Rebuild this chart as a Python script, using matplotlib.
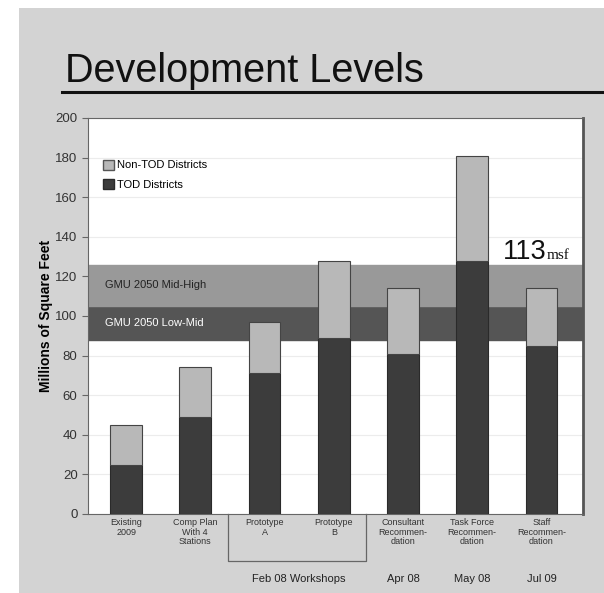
import matplotlib

matplotlib.use("Agg")
import matplotlib.pyplot as plt
from matplotlib.patches import Patch, Rectangle
from matplotlib.lines import Line2D

plt.rcParams["font.family"] = ["Liberation Sans", "DejaVu Sans"]

# Stacked bars: TOD districts at the bottom, non-TOD on top (millions of sq ft)
stages = [
    "Existing\n2009",
    "Comp Plan\nWith 4\nStations",
    "Prototype\nA",
    "Prototype\nB",
    "Consultant\nRecommen-\ndation",
    "Task Force\nRecommen-\ndation",
    "Staff\nRecommen-\ndation",
]
tod = [25, 49, 71, 89, 81, 128, 85]
total = [45, 74, 97, 128, 114, 181, 114]
non_tod = [t - d for t, d in zip(total, tod)]

# GMU 2050 forecast ranges
low_mid = (88, 105)
mid_high = (105, 126)

dates = ["Apr 08", "May 08", "Jul 09"]
workshop_label = "Feb 08 Workshops"
staff_total = 113

fig = plt.figure(figsize=(6.04, 5.93), dpi=100, facecolor="white")
fig.patches.append(Rectangle((19 / 604, 0), 1, 1 - 8 / 593, transform=fig.transFigure,
                             facecolor="#d3d3d3", edgecolor="none", zorder=-10))

fig.text(65 / 604, 1 - 82 / 593, "Development Levels", fontsize=28.5, color="#111111",
         ha="left", va="baseline")
fig.add_artist(Line2D([62 / 604, 1], [1 - 92 / 593] * 2, transform=fig.transFigure,
                      color="#111111", lw=2.2))

ax = fig.add_axes([88 / 604, 79 / 593, 495 / 604, 396 / 593])
ax.set_facecolor("white")
x = list(range(len(stages)))

ax.set_ylim(0, 200)
ax.set_xlim(-0.55, 6.6)
ax.set_yticks(range(0, 201, 20))
ax.yaxis.grid(True, color="#ececec", lw=0.8)
ax.set_axisbelow(True)

ax.axhspan(*low_mid, color="#555555", zorder=1)
ax.axhspan(*mid_high, color="#999999", zorder=1)
ax.text(-0.3, (low_mid[0] + low_mid[1]) / 2, "GMU 2050 Low-Mid", color="white",
        fontsize=8, va="center", zorder=2)
ax.text(-0.3, (mid_high[0] + mid_high[1]) / 2, "GMU 2050 Mid-High", color="#222222",
        fontsize=8, va="center", zorder=2)

w = 0.46
ax.bar(x, tod, width=w, color="#3c3c3c", edgecolor="#2a2a2a", lw=0.8, zorder=3)
ax.bar(x, non_tod, width=w, bottom=tod, color="#b8b8b8", edgecolor="#444444", lw=0.8,
       zorder=3)

ax.text(5.44, 129, str(staff_total), fontsize=19.5, color="#111111", ha="left",
        va="baseline", zorder=4)
ax.text(6.07, 129, "msf", fontsize=11, family="Liberation Serif", color="#111111",
        ha="left", va="baseline", zorder=4)

handles = [Patch(facecolor="#b8b8b8", edgecolor="#555555", label="Non-TOD Districts"),
           Patch(facecolor="#3c3c3c", edgecolor="#2a2a2a", label="TOD Districts")]
ax.legend(handles=handles, loc="upper left", bbox_to_anchor=(0.01, 0.92), frameon=False,
          fontsize=8, handlelength=1.0, handleheight=1.0, handletextpad=0.3,
          labelspacing=0.8)

ax.set_xticks(x)
ax.set_xticklabels(stages, fontsize=6.5, color="#333333", linespacing=1.05)
ax.tick_params(axis="x", length=0, pad=3)
ax.tick_params(axis="y", length=4, color="#666666", labelsize=9.5, labelcolor="#333333")
ax.set_ylabel("Millions of Square Feet", fontsize=10, fontweight="bold", labelpad=2)

for side in ["left", "bottom", "top"]:
    ax.spines[side].set_color("#666666")
ax.spines["right"].set_color("#555555")
ax.spines["right"].set_linewidth(2.0)

# Bracket grouping the two workshop prototypes
trans = ax.get_xaxis_transform()
bx0, bx1, by = 1.47, 3.47, -0.118
ax.plot([bx0, bx0, bx1, bx1], [0, by, by, 0], transform=trans, color="#666666", lw=0.9,
        clip_on=False)
ax.text(2.5, -0.165, workshop_label, transform=trans, ha="center", va="center", fontsize=8,
        color="#222222")
for xi, d in zip([4, 5, 6], dates):
    ax.text(xi, -0.165, d, transform=trans, ha="center", va="center", fontsize=8,
            color="#222222")

plt.savefig("out.png", dpi=100, facecolor=fig.get_facecolor())
plt.close()
